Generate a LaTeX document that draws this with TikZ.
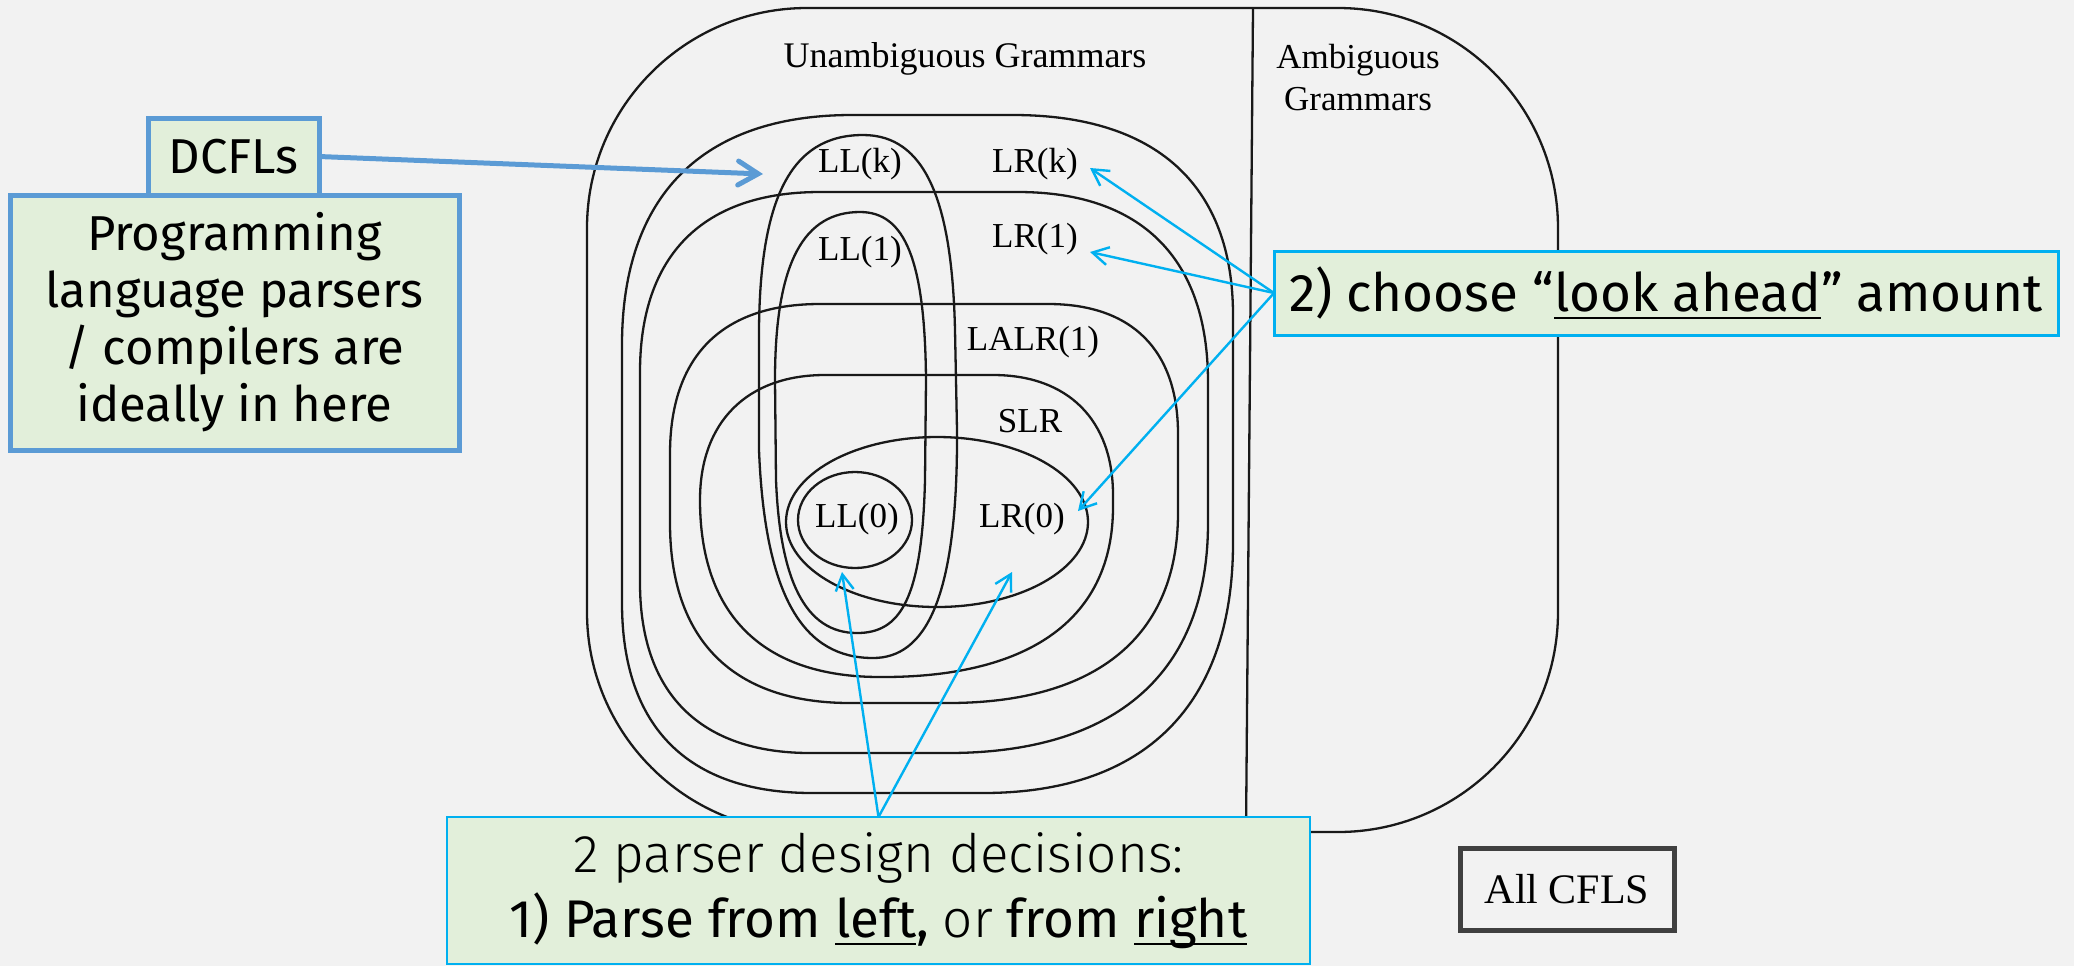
\documentclass[tikz,border=0pt]{standalone}
\usepackage{fontspec}
\setmainfont{Fira Sans}
\newfontfamily\firalight{Fira Sans Light}
\newfontfamily\serifa{Liberation Serif}
\newcommand\myul[1]{\leavevmode\setbox0\hbox{#1}\rlap{\vrule height -2.6pt depth 3.9pt width \wd0}\box0}
\usetikzlibrary{arrows.meta}
\definecolor{bg}{HTML}{F2F2F2}
\definecolor{greenfill}{HTML}{E2EFDA}
\definecolor{steel}{HTML}{5B9BD5}
\definecolor{cyanline}{HTML}{00B0F0}
\definecolor{darkgray}{HTML}{404040}
\tikzset{
  contour/.style={draw=black!90, line width=1.15pt},
  lbl/.style={font=\serifa\fontsize{17.5}{20}\selectfont, anchor=base, inner sep=0},
  bluebox/.style={draw=steel, line width=2.5pt, fill=greenfill, inner sep=0, outer sep=0, align=center},
  cyanbox/.style={draw=cyanline, fill=greenfill, inner sep=0, outer sep=0, align=center},
  bluearrow/.style={draw=steel, line width=2.5pt, -{Straight Barb[length=10pt,width=12pt,line cap=round]}},
  cyanarrow/.style={draw=cyanline, line width=1.2pt, -{Straight Barb[length=8pt,width=9pt]}},
}
\begin{document}
\begin{tikzpicture}[x=0.5pt,y=-0.5pt]
\fill[bg] (0,0) rectangle (2074,966);
\useasboundingbox (0,0) rectangle (2074,966);

% outer region and divider
\draw[contour, rounded corners=110pt] (587,8) rectangle (1558,832);
\draw[contour] (1253,9) -- (1246,832);

% LR(k)
\draw[contour] (852,115) -- (1013,115) .. controls (1156,115) and (1233,185) .. (1233,315)
  -- (1233,543) .. controls (1233,705) and (1145,793) .. (983,793)
  -- (812,793) .. controls (688,793) and (622,727) .. (622,603)
  -- (622,345) .. controls (622,196) and (702,115) .. (852,115) -- cycle;
% LR(1)
\draw[contour] (820,192) -- (1018,192) .. controls (1141,192) and (1208,258) .. (1208,382)
  -- (1208,523) .. controls (1208,672) and (1117,753) .. (948,753)
  -- (810,753) .. controls (700,753) and (640,693) .. (640,583)
  -- (640,372) .. controls (640,255) and (703,192) .. (820,192) -- cycle;
% LALR(1)
\draw[contour] (820,304) -- (1048,304) .. controls (1132,304) and (1178,350) .. (1178,434)
  -- (1178,513) .. controls (1178,636) and (1097,703) .. (948,703)
  -- (850,703) .. controls (733,703) and (670,640) .. (670,523)
  -- (670,454) .. controls (670,356) and (722,304) .. (820,304) -- cycle;
% SLR
\draw[contour] (825,375) -- (993,375) .. controls (1068,375) and (1113,420) .. (1113,495)
  -- (1113,507) .. controls (1113,617) and (1032,677) .. (883,677)
  -- (880,677) .. controls (763,677) and (700,615) .. (700,500)
  .. controls (700,422) and (747,375) .. (825,375) -- cycle;
% LL(k)
\draw[contour] (759,330) .. controls (760,200) and (790,135) .. (863,135)
  .. controls (925,135) and (952,200) .. (955,330)
  -- (957,430) .. controls (958,600) and (925,658) .. (873,658)
  .. controls (805,658) and (765,600) .. (759,450) -- cycle;
% LL(1)
\draw[contour] (775,380) .. controls (775,260) and (805,212) .. (860,212)
  .. controls (905,212) and (925,260) .. (926,380)
  -- (925,480) .. controls (922,600) and (900,633) .. (857,633)
  .. controls (805,633) and (780,580) .. (776,480) -- cycle;
% LR(0) and LL(0)
\draw[contour] (937,522) ellipse [x radius=151, y radius=85];
\draw[contour] (855,520) ellipse [x radius=57, y radius=48];

% labels
\node[lbl, font=\serifa\fontsize{18}{20}\selectfont] (unamb) at (965,67) {Unambiguous Grammars};
\node[lbl] (amb1) at (1358,68) {Ambiguous};
\node[lbl] (amb2) at (1358,110) {Grammars};
\node[lbl] (llk) at (860,172) {LL(k)};
\node[lbl] (lrk) at (1035,172) {LR(k)};
\node[lbl] (ll1) at (860,260) {LL(1)};
\node[lbl] (lr1) at (1035,247) {LR(1)};
\node[lbl] (lalr) at (1033,350) {LALR(1)};
\node[lbl] (slr) at (1030,432) {SLR};
\node[lbl] (ll0) at (857,527) {LL(0)};
\node[lbl] (lr0) at (1022,527) {LR(0)};

% callout boxes
\node[bluebox, minimum width=224.5pt, minimum height=127.5pt,
  font=\fontsize{24.5}{28.5}\selectfont] (prog) at (234.5,322.5)
  {Programming\\language parsers\\/ compilers are\\ideally in here};
\node[bluebox, minimum width=85.5pt, minimum height=38.5pt,
  font=\fontsize{24.5}{28.5}\selectfont] (dcfl) at (233.5,156.5) {DCFLs};
\node[cyanbox, line width=1.5pt, minimum width=392pt, minimum height=42pt,
  font=\fontsize{26.5}{30}\selectfont] (look) at (1666,293)
  {2) choose “\myul{look ahead}” amount};
\node[cyanbox, line width=1.2pt, minimum width=431.5pt, minimum height=73.5pt,
  font=\fontsize{26.5}{32.5}\selectfont] (dec) at (878.5,890.5)
  {{\firalight 2 parser design decisions:}\\1) Parse from \myul{left}, {\firalight or} from \myul{right}};
\node[draw=darkgray, line width=2.5pt, inner sep=0, outer sep=0, minimum width=107pt,
  minimum height=41pt, font=\serifa\fontsize{21}{24}\selectfont] (all) at (1567,889) {All CFLS};

% arrow targets
\coordinate (tDC) at (763,174);
\coordinate (tLRk) at (1090,168);
\coordinate (tLR1) at (1090,252);
\coordinate (tLR0) at (1078,511);
\coordinate (tLL0) at (842,572);
\coordinate (tLR0b) at (1012,572);

\draw[bluearrow] (dcfl.east) -- (tDC);
\draw[cyanarrow] (look.west) -- (tLRk);
\draw[cyanarrow] (look.west) -- (tLR1);
\draw[cyanarrow] (look.west) -- (tLR0);
\draw[cyanarrow] (dec.north) -- (tLL0);
\draw[cyanarrow] (dec.north) -- (tLR0b);
\end{tikzpicture}
\end{document}
